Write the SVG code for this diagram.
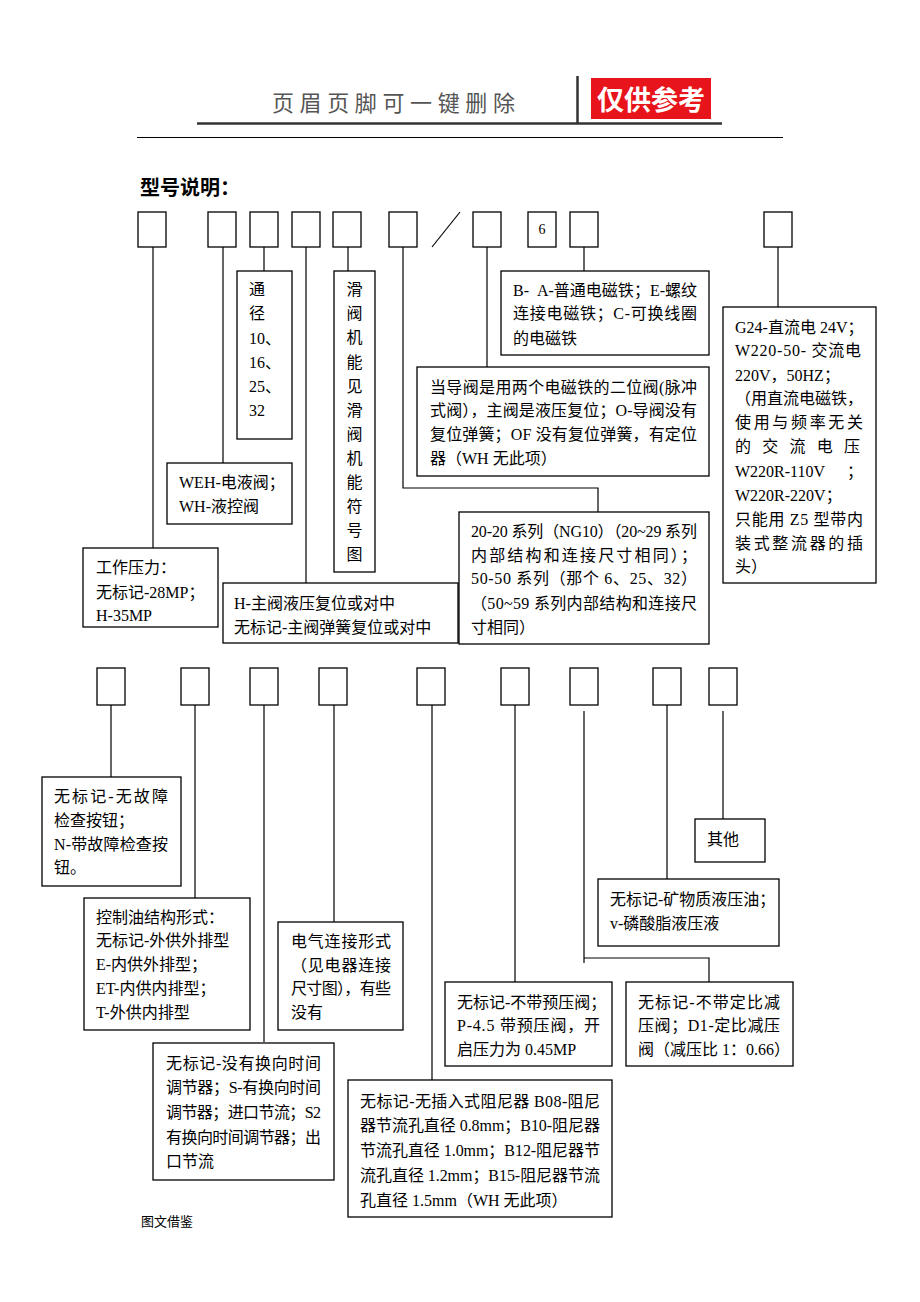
<svg xmlns="http://www.w3.org/2000/svg" width="920" height="1302" viewBox="0 0 920 1302">
<style>
.box{fill:#fff;stroke:#000;stroke-width:1.3}
.sq{fill:#fff;stroke:#000;stroke-width:1.3}
.ln{fill:none;stroke:#000;stroke-width:1.2}
.t{font-family:"Liberation Serif","Noto Sans CJK SC",serif;font-size:16px;fill:#000}
.v{font-family:"Liberation Serif","Noto Sans CJK SC",serif;font-size:16px;fill:#000;text-anchor:middle}
</style>
<rect x="0" y="0" width="920" height="1302" fill="#fff"/>
<g id="header">
<text x="272" y="111" font-family="'Noto Sans CJK SC',sans-serif" font-size="22" fill="#555" textLength="243" lengthAdjust="spacing">页眉页脚可一键删除</text>
<line x1="577.5" y1="76" x2="577.5" y2="123" stroke="#333" stroke-width="2.5"/>
<line x1="197" y1="123.5" x2="722" y2="123.5" stroke="#333" stroke-width="2.5"/>
<rect x="591" y="78" width="120" height="41" fill="#e8141b"/>
<text x="651" y="110" font-family="'Noto Sans CJK SC',sans-serif" font-size="27" font-weight="bold" fill="#fff" text-anchor="middle">仅供参考</text>
<line x1="137" y1="137.5" x2="783" y2="137.5" stroke="#000" stroke-width="1.2"/>
</g>
<text id="title" x="140" y="195" font-family="'Noto Sans CJK SC',sans-serif" font-size="20" font-weight="bold" fill="#000">型号说明：</text>
<g id="connectors">
<path class="ln" d="M153 247V548 M223 247V463 M264 247V271 M306 247V583 M348 247V271 M403 247V488H598V512 M487 247V367 M584 247V271 M778 247V307"/>
<line class="ln" x1="432" y1="247" x2="460" y2="212"/>
<path class="ln" d="M111 705V777 M195 705V898 M264 705V1042 M334 705V922 M432 705V1080 M515 705V982 M584 711V963 M584 958H709V982 M667 705V879 M723 711V819"/>
</g>
<g id="top-slots">
<rect class="sq" x="138" y="212" width="28" height="35"/>
<rect class="sq" x="208" y="212" width="28" height="35"/>
<rect class="sq" x="250" y="212" width="28" height="35"/>
<rect class="sq" x="292" y="212" width="28" height="35"/>
<rect class="sq" x="333" y="212" width="28" height="35"/>
<rect class="sq" x="389" y="212" width="28" height="35"/>
<rect class="sq" x="473" y="212" width="28" height="35"/>
<rect class="sq" x="528" y="212" width="28" height="35"/>
<text x="542" y="234" font-family="'Liberation Serif',serif" font-size="14" text-anchor="middle">6</text>
<rect class="sq" x="570" y="212" width="28" height="35"/>
<rect class="sq" x="764" y="212" width="28" height="35"/>
</g>
<g id="bottom-slots">
<rect class="sq" x="97" y="668" width="28" height="37"/>
<rect class="sq" x="181" y="668" width="28" height="37"/>
<rect class="sq" x="250" y="668" width="28" height="37"/>
<rect class="sq" x="319" y="668" width="28" height="37"/>
<rect class="sq" x="417" y="668" width="28" height="37"/>
<rect class="sq" x="501" y="668" width="28" height="37"/>
<rect class="sq" x="570" y="668" width="28" height="37"/>
<rect class="sq" x="653" y="668" width="28" height="37"/>
<rect class="sq" x="709" y="668" width="28" height="37"/>
</g>
<g id="n-pressure">
<rect class="box" x="83" y="548" width="135" height="79"/>
<text class="t" x="96" y="573">工作压力：</text>
<text class="t" x="96" y="598">无标记-28MP；</text>
<text class="t" x="96" y="621">H-35MP</text>
</g>
<g id="n-weh">
<rect class="box" x="167" y="463" width="125" height="61"/>
<text class="t" x="179" y="488">WEH-电液阀；</text>
<text class="t" x="179" y="512">WH-液控阀</text>
</g>
<g id="n-size">
<rect class="box" x="237" y="271" width="55" height="168"/>
<text class="t" x="249" y="295">通</text>
<text class="t" x="249" y="319">径</text>
<text class="t" x="249" y="344">10、</text>
<text class="t" x="249" y="368">16、</text>
<text class="t" x="249" y="392">25、</text>
<text class="t" x="249" y="416">32</text>
</g>
<g id="n-spool">
<rect class="box" x="334" y="271" width="41" height="301"/>
<text class="v" x="354.5" y="295">滑</text>
<text class="v" x="354.5" y="319">阀</text>
<text class="v" x="354.5" y="343">机</text>
<text class="v" x="354.5" y="368">能</text>
<text class="v" x="354.5" y="392">见</text>
<text class="v" x="354.5" y="416">滑</text>
<text class="v" x="354.5" y="440">阀</text>
<text class="v" x="354.5" y="464">机</text>
<text class="v" x="354.5" y="488">能</text>
<text class="v" x="354.5" y="512">符</text>
<text class="v" x="354.5" y="536">号</text>
<text class="v" x="354.5" y="560">图</text>
</g>
<g id="n-reset">
<rect class="box" x="223" y="583" width="235" height="60"/>
<text class="t" x="234" y="609">H-主阀液压复位或对中</text>
<text class="t" x="234" y="633">无标记-主阀弹簧复位或对中</text>
</g>
<g id="n-magnet">
<rect class="box" x="501" y="271" width="208" height="84"/>
<text class="t" x="513" y="296" textLength="184" lengthAdjust="spacing">B-&#160;&#160;A-普通电磁铁；E-螺纹</text>
<text class="t" x="513" y="319" textLength="184" lengthAdjust="spacing">连接电磁铁；C-可换线圈</text>
<text class="t" x="513" y="344">的电磁铁</text>
</g>
<g id="n-pilot">
<rect class="box" x="417" y="367" width="292" height="109"/>
<text class="t" x="430" y="393" textLength="267" lengthAdjust="spacing">当导阀是用两个电磁铁的二位阀(脉冲</text>
<text class="t" x="430" y="416" textLength="267" lengthAdjust="spacing">式阀），主阀是液压复位；O-导阀没有</text>
<text class="t" x="430" y="440" textLength="267" lengthAdjust="spacing">复位弹簧；OF 没有复位弹簧，有定位</text>
<text class="t" x="430" y="464">器（WH 无此项）</text>
</g>
<g id="n-series">
<rect class="box" x="459" y="512" width="250" height="132"/>
<text class="t" x="471" y="537" textLength="226" lengthAdjust="spacing">20-20 系列（NG10）（20~29 系列</text>
<text class="t" x="471" y="561" textLength="226" lengthAdjust="spacing">内部结构和连接尺寸相同）；</text>
<text class="t" x="471" y="584" textLength="226" lengthAdjust="spacing">50-50 系列（那个 6、25、32）</text>
<text class="t" x="471" y="609" textLength="226" lengthAdjust="spacing">（50~59 系列内部结构和连接尺</text>
<text class="t" x="471" y="633">寸相同）</text>
</g>
<g id="n-voltage">
<rect class="box" x="723" y="307" width="153" height="276"/>
<text class="t" x="735" y="333">G24-直流电 24V；</text>
<text class="t" x="735" y="356" textLength="126" lengthAdjust="spacing">W220-50- 交流电</text>
<text class="t" x="735" y="381">220V，50HZ；</text>
<text class="t" x="735" y="404">（用直流电磁铁，</text>
<text class="t" x="735" y="428" textLength="128" lengthAdjust="spacing">使用与频率无关</text>
<text class="t" x="735" y="452" textLength="125" lengthAdjust="spacing">的交流电压</text>
<text class="t" x="735" y="477">W220R-110V</text>
<text class="t" x="847" y="477">；</text>
<text class="t" x="735" y="501">W220R-220V；</text>
<text class="t" x="735" y="525" textLength="128" lengthAdjust="spacing">只能用 Z5 型带内</text>
<text class="t" x="735" y="549" textLength="128" lengthAdjust="spacing">装式整流器的插</text>
<text class="t" x="735" y="572">头）</text>
</g>
<g id="n-fault">
<rect class="box" x="42" y="777" width="139" height="109"/>
<text class="t" x="54" y="802" textLength="114" lengthAdjust="spacing">无标记-无故障</text>
<text class="t" x="54" y="826">检查按钮；</text>
<text class="t" x="54" y="850" textLength="114" lengthAdjust="spacing">N-带故障检查按</text>
<text class="t" x="54" y="873">钮。</text>
</g>
<g id="n-oil">
<rect class="box" x="84" y="898" width="166" height="132"/>
<text class="t" x="96" y="923">控制油结构形式：</text>
<text class="t" x="96" y="946">无标记-外供外排型</text>
<text class="t" x="96" y="970">E-内供外排型；</text>
<text class="t" x="96" y="994">ET-内供内排型；</text>
<text class="t" x="96" y="1018">T-外供内排型</text>
</g>
<g id="n-electric">
<rect class="box" x="278" y="922" width="125" height="108"/>
<text class="t" x="291" y="947" textLength="100" lengthAdjust="spacing">电气连接形式</text>
<text class="t" x="291" y="971" textLength="100" lengthAdjust="spacing">（见电器连接</text>
<text class="t" x="291" y="994" textLength="100" lengthAdjust="spacing">尺寸图），有些</text>
<text class="t" x="291" y="1018">没有</text>
</g>
<g id="n-timer">
<rect class="box" x="153" y="1043" width="181" height="137"/>
<text class="t" x="166" y="1069" textLength="155" lengthAdjust="spacing">无标记-没有换向时间</text>
<text class="t" x="166" y="1093" textLength="155" lengthAdjust="spacing">调节器；S-有换向时间</text>
<text class="t" x="166" y="1118" textLength="155" lengthAdjust="spacing">调节器；进口节流；S2</text>
<text class="t" x="166" y="1143" textLength="155" lengthAdjust="spacing">有换向时间调节器；出</text>
<text class="t" x="166" y="1167">口节流</text>
</g>
<g id="n-damper">
<rect class="box" x="348" y="1080" width="264" height="137"/>
<text class="t" x="360" y="1107" textLength="240" lengthAdjust="spacing">无标记-无插入式阻尼器 B08-阻尼</text>
<text class="t" x="360" y="1131" textLength="240" lengthAdjust="spacing">器节流孔直径 0.8mm；B10-阻尼器</text>
<text class="t" x="360" y="1156" textLength="240" lengthAdjust="spacing">节流孔直径 1.0mm；B12-阻尼器节</text>
<text class="t" x="360" y="1181" textLength="240" lengthAdjust="spacing">流孔直径 1.2mm；B15-阻尼器节流</text>
<text class="t" x="360" y="1206">孔直径 1.5mm（WH 无此项）</text>
</g>
<g id="n-prepressure">
<rect class="box" x="445" y="982" width="167" height="84"/>
<text class="t" x="457" y="1008">无标记-不带预压阀；</text>
<text class="t" x="457" y="1031" textLength="143" lengthAdjust="spacing">P-4.5 带预压阀，开</text>
<text class="t" x="457" y="1055">启压力为 0.45MP</text>
</g>
<g id="n-ratio">
<rect class="box" x="626" y="982" width="167" height="84"/>
<text class="t" x="638" y="1008" textLength="142" lengthAdjust="spacing">无标记-不带定比减</text>
<text class="t" x="638" y="1031" textLength="142" lengthAdjust="spacing">压阀；D1-定比减压</text>
<text class="t" x="638" y="1055">阀（减压比 1：0.66）</text>
</g>
<g id="n-fluid">
<rect class="box" x="598" y="879" width="181" height="67"/>
<text class="t" x="610" y="905">无标记-矿物质液压油；</text>
<text class="t" x="610" y="929">v-磷酸脂液压液</text>
</g>
<g id="n-other">
<rect class="box" x="695" y="819" width="70" height="43"/>
<text class="t" x="707" y="845">其他</text>
</g>
<text id="footer" x="141" y="1226" font-family="'Noto Sans CJK SC',sans-serif" font-size="13" fill="#000">图文借鉴</text>
</svg>
